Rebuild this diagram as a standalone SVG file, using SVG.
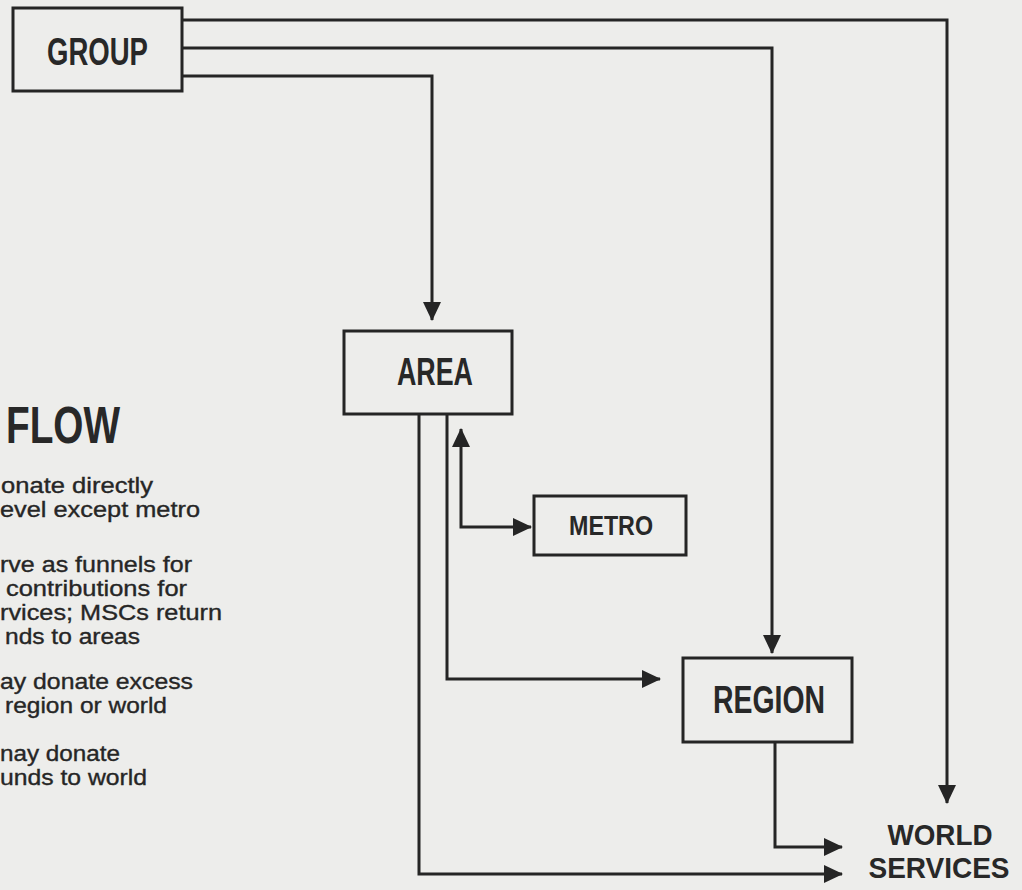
<svg xmlns="http://www.w3.org/2000/svg" width="1022" height="890" viewBox="0 0 1022 890">
<defs>
<style>
.bg{fill:#ededeb}
.box{fill:none;stroke:#252525;stroke-width:3}
.ln{fill:none;stroke:#252525;stroke-width:3;stroke-linejoin:miter}
.lbl{font-family:"Liberation Sans Narrow","Liberation Sans",Arial,sans-serif;font-weight:bold;fill:#282828;text-anchor:middle}
.big{font-size:38px}
.ws{font-size:30px}
.sm{font-size:27px}
.body{font-family:"Liberation Sans Narrow","Liberation Sans",Arial,sans-serif;font-size:21.5px;fill:#262626;stroke:#262626;stroke-width:0.35}
</style>
<marker id="ah" markerUnits="userSpaceOnUse" markerWidth="20" markerHeight="18" refX="18" refY="9" orient="auto-start-reverse" viewBox="0 0 20 18">
<path d="M0,0 L19,9 L0,18 z" fill="#252525"/>
</marker>
</defs>
<rect class="bg" x="0" y="0" width="1022" height="890"/>

<g id="title">
<text class="lbl" x="6" y="443" style="font-size:52px;text-anchor:start" textLength="114" lengthAdjust="spacingAndGlyphs">FLOW</text>
</g>

<g id="notes">
<text class="body" x="1" y="493" textLength="152" lengthAdjust="spacingAndGlyphs">onate directly</text>
<text class="body" x="0" y="517" textLength="200" lengthAdjust="spacingAndGlyphs">evel except metro</text>
<text class="body" x="0" y="572" textLength="192" lengthAdjust="spacingAndGlyphs">rve as funnels for</text>
<text class="body" x="6" y="596" textLength="181" lengthAdjust="spacingAndGlyphs">contributions for</text>
<text class="body" x="0" y="620" textLength="222" lengthAdjust="spacingAndGlyphs">rvices; MSCs return</text>
<text class="body" x="5" y="644" textLength="135" lengthAdjust="spacingAndGlyphs">nds to areas</text>
<text class="body" x="0" y="689" textLength="193" lengthAdjust="spacingAndGlyphs">ay donate excess</text>
<text class="body" x="5" y="713" textLength="162" lengthAdjust="spacingAndGlyphs">region or world</text>
<text class="body" x="0" y="761" textLength="120" lengthAdjust="spacingAndGlyphs">nay donate</text>
<text class="body" x="0" y="785" textLength="147" lengthAdjust="spacingAndGlyphs">unds to world</text>
</g>

<g id="connectors">
<path class="ln" d="M182,20 L947,20 L947,803" marker-end="url(#ah)"/>
<path class="ln" d="M182,48 L772,48 L772,653" marker-end="url(#ah)"/>
<path class="ln" d="M182,76 L432,76 L432,320" marker-end="url(#ah)"/>
<path class="ln" d="M419,414 L419,874 L842,874" marker-end="url(#ah)"/>
<path class="ln" d="M447,414 L447,679 L660,679" marker-end="url(#ah)"/>
<path class="ln" d="M461,429 L461,527 L531,527" marker-start="url(#ah)" marker-end="url(#ah)"/>
<path class="ln" d="M775,742 L775,847 L842,847" marker-end="url(#ah)"/>
</g>

<g id="group">
<rect class="box" x="13" y="8" width="169" height="83"/>
<text class="lbl big" x="97.5" y="65" textLength="101" lengthAdjust="spacingAndGlyphs">GROUP</text>
</g>

<g id="area">
<rect class="box" x="344" y="331" width="168" height="83"/>
<text class="lbl big" x="435" y="385" textLength="76" lengthAdjust="spacingAndGlyphs">AREA</text>
</g>

<g id="metro">
<rect class="box" x="534" y="496" width="152" height="59"/>
<text class="lbl sm" x="611" y="535" textLength="84" lengthAdjust="spacingAndGlyphs">METRO</text>
</g>

<g id="region">
<rect class="box" x="683" y="658" width="169" height="84"/>
<text class="lbl big" x="769" y="713" textLength="112" lengthAdjust="spacingAndGlyphs">REGION</text>
</g>

<g id="world">
<text class="lbl ws" x="940" y="845" textLength="105" lengthAdjust="spacingAndGlyphs">WORLD</text>
<text class="lbl ws" x="939" y="878" textLength="141" lengthAdjust="spacingAndGlyphs">SERVICES</text>
</g>
</svg>
